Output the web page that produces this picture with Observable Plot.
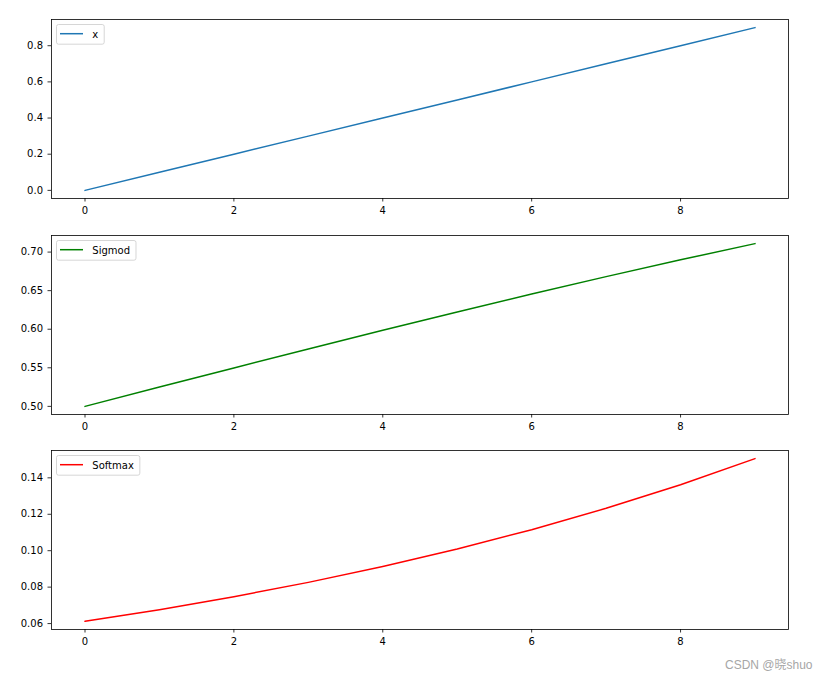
<!DOCTYPE html>
<html>
<head>
<meta charset="utf-8">
<script src="https://cdn.jsdelivr.net/npm/d3@7"></script>
<script src="https://cdn.jsdelivr.net/npm/@observablehq/plot@0.6"></script>
<style>
  html, body { margin: 0; padding: 0; background: #fff; }
  #fig { position: relative; width: 829px; height: 679px; overflow: hidden; }
  #fig svg { position: absolute; left: 0; }
  #mark { position: absolute; left: 725px; top: 655px; font-family: "Liberation Sans", "Noto Sans CJK SC", sans-serif;
          font-size: 12px; color: #a6a6a6; white-space: nowrap; }
</style>
</head>
<body>
<div id="fig"><div id="mark">CSDN @晓shuo</div></div>
<script>
// Inputs 0..9 and the three activations evaluated on x = i / 10
const steps = [0, 1, 2, 3, 4, 5, 6, 7, 8, 9];
const xValues = [0.0, 0.1, 0.2, 0.3, 0.4, 0.5, 0.6, 0.7, 0.8, 0.9];
const sigmodValues = [0.5, 0.52498, 0.54983, 0.57444, 0.59869, 0.62246, 0.64566, 0.66819, 0.68997, 0.71095];
const softmaxValues = [0.06121, 0.06764, 0.07476, 0.08262, 0.09131, 0.10091, 0.11153, 0.12326, 0.13622, 0.15054];

const xTicks = [0, 2, 4, 6, 8];
const xTicksY = [0.0, 0.2, 0.4, 0.6, 0.8];
const sigmodTicks = [0.50, 0.55, 0.60, 0.65, 0.70];
const softmaxTicks = [0.06, 0.08, 0.10, 0.12, 0.14];

const panels = [
  {name: "x", values: xValues, color: "#1f77b4", ticks: xTicksY, fmt: ".1f", top: 9},
  {name: "Sigmod", values: sigmodValues, color: "#008000", ticks: sigmodTicks, fmt: ".2f", top: 224.5},
  {name: "Softmax", values: softmaxValues, color: "#ff0000", ticks: softmaxTicks, fmt: ".2f", top: 440}
];

const fig = document.getElementById("fig");
const mTop = 10, mLeft = 51, mRight = 41, mBottom = 30, frameH = 179;

// pad a domain by 5% on each side, like an autoscaled axis
function padded(lo, hi) {
  const m = (hi - lo) * 0.05;
  return [lo - m, hi + m];
}

for (const p of panels) {
  const data = steps.map((s, i) => ({step: s, value: p.values[i]}));
  const svg = Plot.plot({
    width: 829,
    height: mTop + frameH + mBottom,
    marginTop: mTop, marginLeft: mLeft, marginRight: mRight, marginBottom: mBottom,
    style: {fontFamily: "DejaVu Sans", fontSize: "10px", color: "black", background: "transparent", overflow: "visible"},
    x: {domain: padded(d3.min(steps), d3.max(steps))},
    y: {domain: padded(d3.min(p.values), d3.max(p.values))},
    marks: [
      Plot.line(data, {x: "step", y: "value", stroke: p.color, strokeWidth: 1.5}),
      Plot.axisX({ticks: xTicks, tickSize: 3.5, tickPadding: 5, tickFormat: d => String(d), label: null, strokeWidth: 0.8}),
      Plot.axisY({ticks: p.ticks, tickSize: 3.5, tickPadding: 5, tickFormat: d3.format(p.fmt), label: null, strokeWidth: 0.8}),
      Plot.frame({stroke: "black", strokeWidth: 0.8})
    ]
  });
  svg.style.top = p.top + "px";
  fig.appendChild(svg);

  // legend box in the upper-left corner of the axes
  const g = d3.select(svg).append("g").attr("transform", `translate(${mLeft + 5.5},${mTop + 5.5})`);
  const rect = g.append("rect").attr("rx", 2).attr("ry", 2).attr("height", 19.7)
    .attr("fill", "white").attr("fill-opacity", 0.8).attr("stroke", "#cccccc").attr("stroke-width", 0.8);
  g.append("line").attr("x1", 3.5).attr("x2", 26.5).attr("y1", 9.2).attr("y2", 9.2)
    .attr("stroke", p.color).attr("stroke-width", 1.5);
  const t = g.append("text").attr("x", 35.8).attr("y", 9.5).attr("dy", "0.35em")
    .attr("text-anchor", "start")
    .attr("font-family", "DejaVu Sans").attr("font-size", 10).attr("fill", "black").text(p.name);
  const tw = t.node().getComputedTextLength();
  rect.attr("width", 35.8 + tw + 6);
}
</script>
</body>
</html>
